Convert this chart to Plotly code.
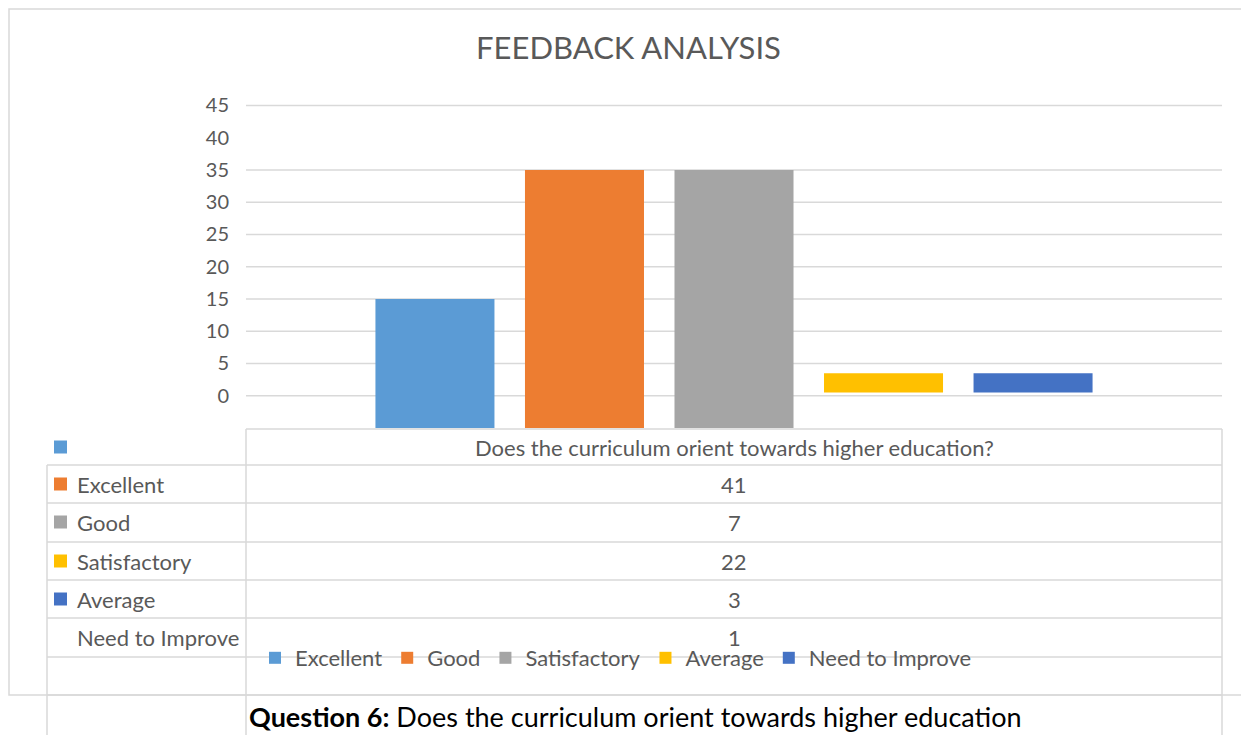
import plotly.graph_objects as go

# series as drawn in the chart (one category, five clustered bars)
series_names = ["Excellent", "Good", "Satisfactory", "Average", "Need to Improve"]
series_colors = ["#5B9BD5", "#ED7D31", "#A5A5A5", "#FFC000", "#4472C4"]
bar_tops = [15, 35, 35, 3.5, 3.5]
bar_bases = [-5, -5, -5, 0.5, 0.5]
category = "Does the curriculum orient towards higher education?"

# data table under the chart
table_labels = ["", "Excellent", "Good", "Satisfactory", "Average", "Need to Improve"]
table_key_colors = ["#5B9BD5", "#ED7D31", "#A5A5A5", "#FFC000", "#4472C4", None]
table_values = [category, "41", "7", "22", "3", "1"]

y_ticks = [0, 5, 10, 15, 20, 25, 30, 35, 40, 45]
grid_values = [0, 5, 10, 15, 20, 25, 30, 35, 45]

# page offset: the html body has an 8px margin
OFF = 8
W, H = 1249 - OFF, 735 - OFF
L, R, T, B = 246 - OFF, 1222 - OFF, 99 - OFF, 428 - OFF
GREY = "#595959"
LINE = "#D9D9D9"
FONT = "Lato"


def px_x(x):
    return (x - OFF - L) / (R - L)


def px_y(y):
    return (B - (y - OFF)) / (B - T)


fig = go.Figure()
for name, color, top, base in zip(series_names, series_colors, bar_tops, bar_bases):
    fig.add_trace(go.Bar(
        x=[category], y=[top - base], base=[base], name=name,
        marker=dict(color=color, line_width=0)))

shapes = []
# gridlines (the 40 line is missing in the original)
for v in grid_values:
    shapes.append(dict(type="line", xref="paper", yref="y", x0=0, x1=1, y0=v, y1=v,
                       line=dict(color=LINE, width=1.5), layer="below"))


def hline(y, x0, x1):
    shapes.append(dict(type="line", xref="paper", yref="paper",
                       x0=px_x(x0), x1=px_x(x1), y0=px_y(y), y1=px_y(y),
                       line=dict(color=LINE, width=1.5)))


def vline(x, y0, y1):
    shapes.append(dict(type="line", xref="paper", yref="paper",
                       x0=px_x(x), x1=px_x(x), y0=px_y(y0), y1=px_y(y1),
                       line=dict(color=LINE, width=1.5)))


# chart border
shapes.append(dict(type="rect", xref="paper", yref="paper",
                   x0=px_x(OFF + 1), x1=px_x(1245), y0=px_y(OFF + 1), y1=px_y(695),
                   line=dict(color=LINE, width=1.5)))

# data table grid
row_lines = [465, 503, 542, 580, 618, 657, 695]
hline(429, 246, 1222)
for y in row_lines:
    hline(y, 47, 1222)
vline(246, 429, 735)
vline(1222, 429, 735)
vline(47, 465, 735)

row_centers = [447, 484, 522, 561, 599, 637]
annotations = []
for yc, lab, kc, val in zip(row_centers, table_labels, table_key_colors, table_values):
    if kc:
        shapes.append(dict(type="rect", xref="paper", yref="paper",
                           x0=px_x(54), x1=px_x(67), y0=px_y(yc - 6.5), y1=px_y(yc + 6.5),
                           fillcolor=kc, line_width=0))
    if lab:
        annotations.append(dict(x=px_x(75), y=px_y(yc), xref="paper", yref="paper",
                                text=lab, showarrow=False, xanchor="left", yanchor="middle",
                                font=dict(size=22, color=GREY, family=FONT)))
    annotations.append(dict(x=px_x(734), y=px_y(yc), xref="paper", yref="paper",
                            text=val, showarrow=False, xanchor="center", yanchor="middle",
                            font=dict(size=22, color=GREY, family=FONT)))

annotations.append(dict(x=px_x(247), y=px_y(716), xref="paper", yref="paper",
                        text="<b>Question 6:</b> Does the curriculum orient towards higher education",
                        showarrow=False, xanchor="left", yanchor="middle",
                        font=dict(size=27, color="black", family=FONT)))

fig.update_layout(
    width=W, height=H,
    margin=dict(l=L, r=W - R, t=T, b=H - B, autoexpand=False),
    paper_bgcolor="white", plot_bgcolor="white",
    barmode="group", bargap=0.234, bargroupgap=0.204,
    title=dict(text="FEEDBACK ANALYSIS", x=0.5, xanchor="center", y=1 - (48 - OFF) / H,
               yanchor="middle", font=dict(size=31, color=GREY, family=FONT)),
    font=dict(family=FONT, color=GREY),
    xaxis=dict(showticklabels=False, showgrid=False, zeroline=False, showline=False),
    yaxis=dict(range=[-5, 46], tickvals=y_ticks, showgrid=False, zeroline=False,
               showline=False, ticklabelstandoff=16,
               tickfont=dict(size=20, color=GREY, family=FONT)),
    legend=dict(orientation="h", x=px_x(255), y=px_y(658), xanchor="left", yanchor="middle",
                font=dict(size=22, color=GREY, family=FONT), bgcolor="rgba(0,0,0,0)",
                traceorder="normal", itemwidth=30),
    shapes=shapes, annotations=annotations,
)

fig.write_html("out.html")
